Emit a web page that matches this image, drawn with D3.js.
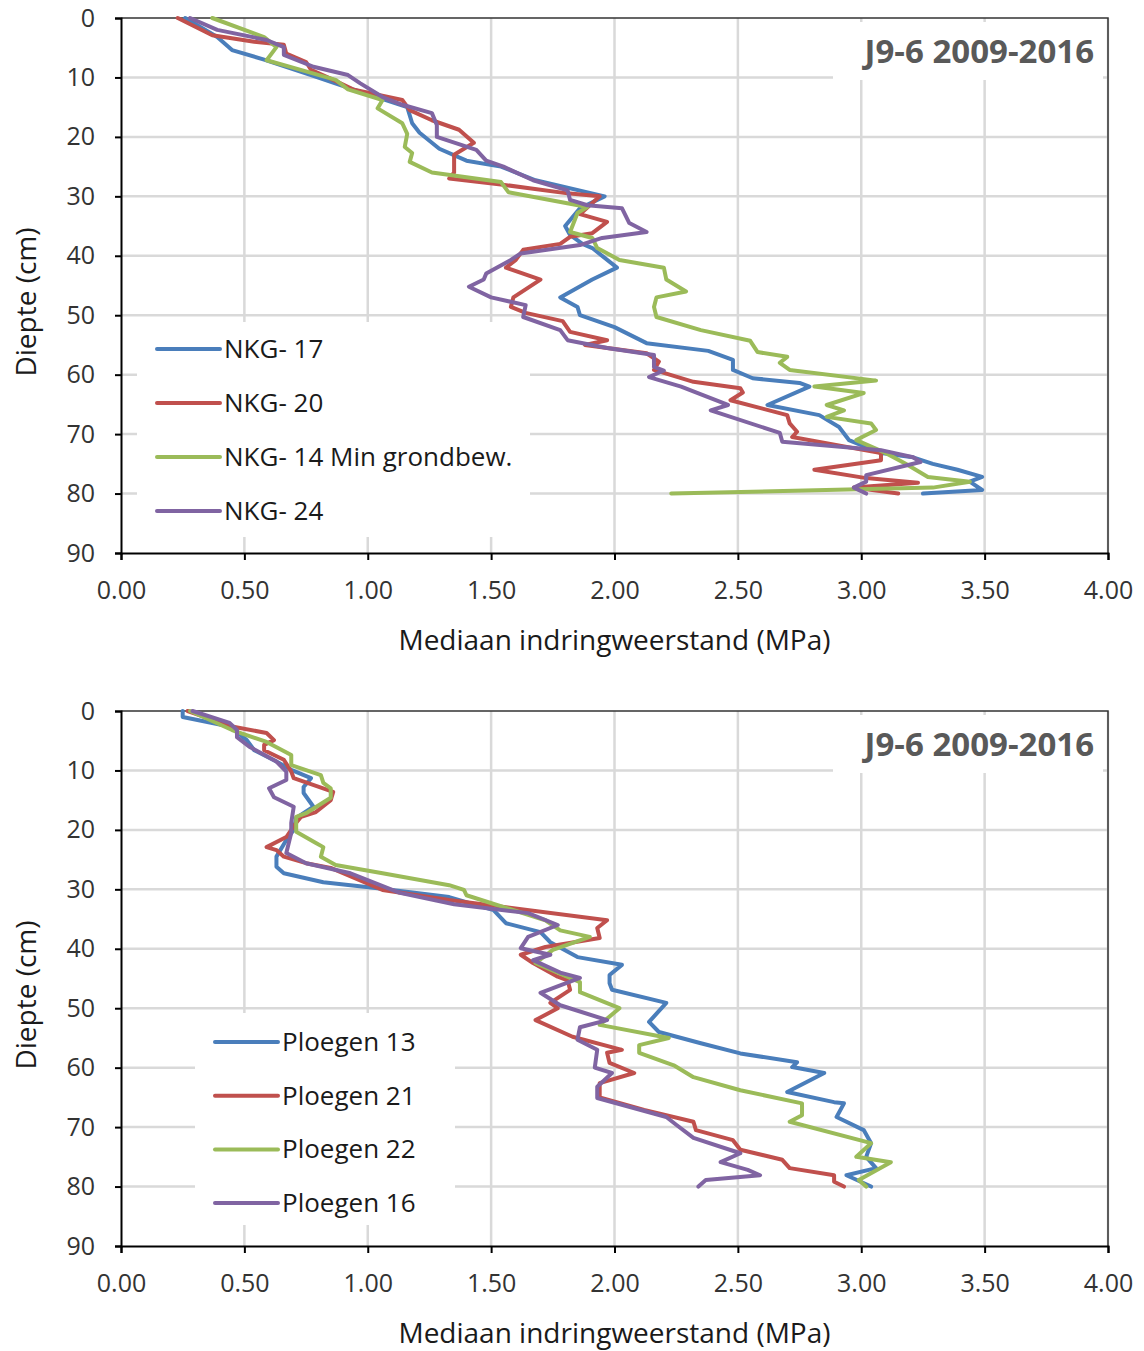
<!DOCTYPE html>
<html>
<head>
<meta charset="utf-8">
<script src="https://cdn.jsdelivr.net/npm/d3@7"></script>
<style>
  body { margin: 0; background: #fff; }
  svg { display: block; font-family: "Open Sans", "Noto Sans", sans-serif; }
</style>
</head>
<body>
<svg id="chart" width="1144" height="1351"></svg>
<script>
// ---- data: [depth (cm), median resistance (MPa)] ----
const nkg17 = [[0,0.26],[3.2,0.39],[5.4,0.45],[7,0.58],[9.6,0.77],[12,0.94],[15,1.16],[17.7,1.18],[19.3,1.21],[22,1.29],[24,1.40],[25,1.54],[27.3,1.68],[30,1.96],[32,1.86],[35,1.80],[36.5,1.82],[38,1.87],[38.7,1.91],[42,2.01],[44,1.91],[47,1.78],[48.6,1.85],[50,1.86],[52,2.00],[54.7,2.13],[56,2.38],[57.5,2.48],[59.2,2.48],[60.6,2.56],[61.4,2.75],[62,2.79],[65.1,2.62],[66.8,2.83],[68.8,2.91],[71,2.95],[73.2,3.08],[73.9,3.21],[75,3.29],[76,3.39],[77.2,3.49],[78,3.44],[79.4,3.49],[80,3.25]];
const nkg20 = [[0,0.23],[2.9,0.37],[4,0.54],[4.5,0.66],[6,0.67],[7.4,0.75],[8.7,0.77],[10.4,0.86],[12,0.94],[13.8,1.14],[15.5,1.17],[17.2,1.26],[18.8,1.37],[21,1.43],[23,1.35],[26,1.35],[27,1.33],[28,1.54],[29.5,1.81],[30,1.94],[33,1.86],[34.3,1.97],[36.2,1.91],[36.8,1.82],[38,1.78],[39,1.63],[40.7,1.60],[42,1.56],[44,1.70],[47,1.59],[48.6,1.58],[49.6,1.64],[51,1.79],[52.8,1.82],[54.2,1.97],[55,1.88],[56.4,2.13],[57.8,2.18],[59.2,2.16],[61.2,2.32],[62.3,2.51],[63,2.52],[64.3,2.47],[66.8,2.70],[68.2,2.71],[69.6,2.74],[70.5,2.72],[73.2,3.08],[74.4,3.08],[76,2.81],[77.4,3.02],[78.2,3.23],[79,2.97],[80,3.15]];
const nkg14 = [[0,0.37],[3.2,0.58],[4.9,0.63],[7.1,0.59],[8.4,0.70],[10.4,0.87],[12,0.92],[13.8,1.06],[15.2,1.04],[17.7,1.14],[19.5,1.16],[21.7,1.15],[22.7,1.18],[24.2,1.17],[26,1.26],[27.6,1.54],[29.3,1.57],[31.8,1.89],[32.8,1.85],[36,1.82],[37,1.91],[38.7,1.93],[40.7,2.02],[42,2.20],[44,2.21],[46,2.29],[47,2.17],[48.6,2.16],[50.3,2.17],[52.5,2.35],[54.3,2.55],[56.2,2.58],[57,2.70],[58,2.67],[59.2,2.71],[61,3.06],[62,2.81],[63.1,3.01],[65.1,2.86],[66,2.93],[67.1,2.86],[68.2,3.04],[69.3,3.06],[71,2.98],[73.2,3.10],[75,3.18],[77.2,3.27],[78,3.44],[79,3.29],[80,2.23]];
const nkg24 = [[0,0.28],[2,0.39],[3.7,0.59],[4.9,0.66],[6.2,0.66],[8.2,0.78],[9.6,0.92],[11,0.97],[13.3,1.06],[14.6,1.14],[16,1.26],[18,1.28],[20,1.28],[22.2,1.44],[24,1.48],[25,1.55],[27.3,1.67],[29,1.81],[30.6,1.82],[31.5,1.89],[32,2.03],[34.5,2.06],[36,2.13],[37,1.95],[38.2,1.86],[39.6,1.62],[40.7,1.58],[43,1.48],[44,1.47],[45.2,1.41],[47,1.50],[48.3,1.64],[50.3,1.63],[52.5,1.78],[54.2,1.81],[55.5,1.97],[56.7,2.16],[58.7,2.16],[59.3,2.20],[60.4,2.14],[62,2.27],[65.1,2.46],[66,2.39],[69.8,2.67],[71.3,2.68],[72.7,3.08],[73.9,3.21],[74.7,3.24],[76.9,3.02],[78,3.02],[79,2.97],[80,3.02]];

const ploegen13 = [[0,0.25],[1,0.25],[2.6,0.44],[4.9,0.51],[6.6,0.54],[8.5,0.63],[9.9,0.69],[11.3,0.77],[12.8,0.74],[13.8,0.74],[16.1,0.78],[18,0.71],[20,0.70],[21.7,0.67],[24.5,0.63],[26.2,0.63],[27.3,0.66],[28.8,0.82],[29.8,1.04],[31.3,1.33],[33.5,1.51],[35.7,1.56],[37.2,1.70],[38.9,1.74],[41.4,1.85],[42.7,2.03],[44.4,1.98],[45.8,1.98],[46.9,1.99],[49.1,2.21],[52.3,2.14],[54,2.18],[55.9,2.35],[57.6,2.51],[59.1,2.74],[59.9,2.72],[60.9,2.85],[64.1,2.70],[65.8,2.89],[66,2.93],[68.3,2.90],[70.5,3.01],[72.7,3.04],[75,3.02],[76.9,3.06],[78.1,2.94],[80,3.04]];
const ploegen21 = [[0,0.27],[2.6,0.45],[3.7,0.59],[4.9,0.62],[5.7,0.58],[6.6,0.58],[8.2,0.66],[10.2,0.69],[11.3,0.70],[13.6,0.86],[15,0.85],[17,0.79],[17.8,0.73],[18.8,0.71],[21.2,0.67],[22.9,0.59],[23.4,0.63],[24.5,0.66],[25.6,0.75],[26.4,0.85],[30.1,1.06],[31.8,1.33],[35.2,1.97],[36.5,1.93],[38.2,1.94],[39.7,1.72],[41,1.62],[42.4,1.67],[44.7,1.77],[45.3,1.81],[46.9,1.82],[49.1,1.74],[50,1.77],[52,1.68],[54.8,1.83],[57,2.03],[57.5,1.97],[59.2,1.98],[60.9,2.08],[62.6,1.94],[65,1.94],[67.1,2.12],[69.1,2.32],[70.5,2.33],[72.2,2.48],[73.8,2.51],[75.5,2.68],[76.9,2.71],[78.1,2.89],[79.2,2.89],[80,2.93]];
const ploegen22 = [[0,0.28],[3.2,0.45],[5.2,0.59],[7.4,0.69],[9.1,0.69],[10.8,0.81],[12.1,0.82],[13,0.85],[14.6,0.85],[17.2,0.75],[17.8,0.71],[20.3,0.71],[22.2,0.79],[22.9,0.82],[24.5,0.81],[25.9,0.87],[27.3,1.06],[29.3,1.33],[30.1,1.39],[31,1.40],[35.2,1.72],[36.9,1.78],[38,1.90],[40.2,1.75],[42.4,1.68],[45.6,1.86],[47.3,1.86],[50,2.02],[52.8,1.94],[55,2.22],[56.2,2.10],[57.5,2.10],[59.6,2.24],[61.6,2.32],[63.8,2.51],[66,2.76],[68,2.76],[69.1,2.71],[72.7,3.04],[75,2.98],[75.9,3.12],[78.9,2.99],[80,3.02]];
const ploegen16 = [[0,0.29],[2,0.44],[3.2,0.47],[4.4,0.47],[6,0.52],[8.5,0.63],[10.2,0.67],[11.6,0.67],[13,0.60],[14.5,0.62],[16.1,0.70],[18.8,0.69],[20.5,0.69],[23.9,0.67],[25.6,0.75],[27.3,0.93],[30.6,1.13],[32.5,1.35],[34,1.65],[36,1.77],[38,1.65],[39.9,1.62],[41,1.74],[41.9,1.67],[44,1.78],[44.9,1.86],[47.4,1.70],[49.5,1.78],[52,1.97],[53.2,1.86],[55.3,1.85],[57,1.93],[60,1.92],[60.9,1.99],[63.2,1.93],[65.1,1.93],[68.3,2.21],[69.6,2.25],[71.8,2.32],[74.4,2.51],[75.9,2.43],[77.2,2.54],[78.1,2.59],[78.9,2.37],[80,2.34]];

const topNames = ["NKG- 17", "NKG- 20", "NKG- 14 Min grondbew.", "NKG- 24"];
const bottomNames = ["Ploegen 13", "Ploegen 21", "Ploegen 22", "Ploegen 16"];
const seriesColors = ["#4a7ebb", "#c0504d", "#9bbb59", "#8064a2"];
const depthTicks = [0, 10, 20, 30, 40, 50, 60, 70, 80, 90];
const mpaTicks = [0, 0.5, 1, 1.5, 2, 2.5, 3, 3.5, 4];
const chartTitle = "J9-6 2009-2016";
const xTitle = "Mediaan indringweerstand (MPa)";
const yTitle = "Diepte (cm)";

// ---- layout ----
const svg = d3.select("#chart");
const plotLeft = 121, plotRight = 1108, plotH = 535;

const x = d3.scaleLinear().domain([0, 4]).range([plotLeft, plotRight]);

function drawPanel(top, series, names, legend) {
  const y = d3.scaleLinear().domain([0, 90]).range([top, top + plotH]);
  const g = svg.append("g");

  // gridlines
  g.append("g").selectAll("line.v").data(mpaTicks.slice(1)).enter()
    .append("line")
    .attr("x1", d => x(d)).attr("x2", d => x(d))
    .attr("y1", top).attr("y2", top + plotH)
    .attr("stroke", "#d9d9d9").attr("stroke-width", 2.5);
  g.append("g").selectAll("line.h").data(depthTicks.slice(1, -1)).enter()
    .append("line")
    .attr("x1", plotLeft).attr("x2", plotRight)
    .attr("y1", d => y(d)).attr("y2", d => y(d))
    .attr("stroke", "#d9d9d9").attr("stroke-width", 2.5);

  // plot border top/right
  g.append("path")
    .attr("d", `M${plotLeft},${top}H${plotRight}V${top + plotH}`)
    .attr("fill", "none").attr("stroke", "#333").attr("stroke-width", 1.5);

  // title box
  g.append("rect").attr("x", 833).attr("y", top + 4).attr("width", 270).attr("height", 58)
    .attr("fill", "#fff");
  g.append("text").attr("x", 1094).attr("y", top + 45)
    .attr("text-anchor", "end").attr("font-size", 33).attr("font-weight", "bold")
    .attr("fill", "#595959").text(chartTitle);

  // legend box
  g.append("rect").attr("x", legend.x).attr("y", legend.y)
    .attr("width", legend.w).attr("height", legend.h).attr("fill", "#fff");

  // lines
  const line = d3.line().x(d => x(d[1])).y(d => y(d[0]));
  series.forEach((s, i) => {
    g.append("path").datum(s)
      .attr("d", line)
      .attr("fill", "none")
      .attr("stroke", seriesColors[i])
      .attr("stroke-width", 4)
      .attr("stroke-linejoin", "round")
      .attr("stroke-linecap", "round");
  });

  // legend entries
  names.forEach((n, i) => {
    const ly = legend.first + i * legend.step;
    g.append("line").attr("x1", legend.lx1).attr("x2", legend.lx2)
      .attr("y1", ly).attr("y2", ly)
      .attr("stroke", seriesColors[i]).attr("stroke-width", 4)
      .attr("stroke-linecap", "round");
    g.append("text").attr("x", legend.lx2 + 4).attr("y", ly + 9)
      .attr("font-size", 26).attr("fill", "#1a1a1a").text(n);
  });

  // axes
  const yAxis = g.append("g").attr("transform", `translate(${plotLeft},0)`)
    .call(d3.axisLeft(y).tickValues(depthTicks).tickSize(6).tickPadding(20).tickFormat(d3.format("d")));
  const xAxis = g.append("g").attr("transform", `translate(0,${top + plotH})`)
    .call(d3.axisBottom(x).tickValues(mpaTicks).tickSize(7).tickPadding(21).tickFormat(d3.format(".2f")));
  [yAxis, xAxis].forEach(a => {
    a.select(".domain").attr("stroke", "#000").attr("stroke-width", 2);
    a.selectAll(".tick line").attr("stroke", "#000").attr("stroke-width", 2);
    a.selectAll(".tick text").attr("font-size", 25).attr("font-family", "Open Sans, sans-serif").attr("fill", "#333");
  });

  // axis titles
  g.append("text").attr("x", x(2)).attr("y", top + plotH + 97)
    .attr("text-anchor", "middle").attr("font-size", 28).attr("fill", "#1a1a1a").text(xTitle);
  g.append("text")
    .attr("transform", `translate(36,${top + 284}) rotate(-90)`)
    .attr("text-anchor", "middle").attr("font-size", 28).attr("fill", "#1a1a1a").text(yTitle);
}

drawPanel(18, [nkg17, nkg20, nkg14, nkg24], topNames,
  { x: 137, y: 322, w: 393, h: 215, lx1: 157, lx2: 220, first: 349, step: 54 });
drawPanel(711, [ploegen13, ploegen21, ploegen22, ploegen16], bottomNames,
  { x: 195, y: 1013, w: 260, h: 212, lx1: 215, lx2: 278, first: 1042, step: 53.7 });
</script>
</body>
</html>
